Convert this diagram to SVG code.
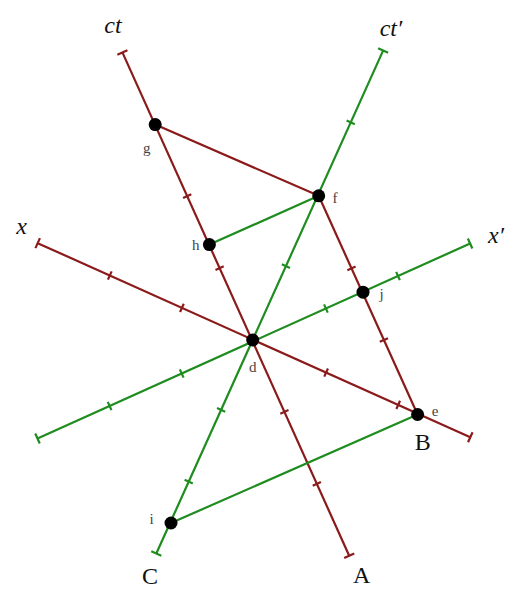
<svg xmlns="http://www.w3.org/2000/svg" width="518" height="599" viewBox="0 0 518 599">
<style>
  .r{stroke:#8b1a1a;stroke-width:2.2;fill:none;stroke-linecap:butt}
  .gr{stroke:#1e8c1e;stroke-width:2.2;fill:none;stroke-linecap:butt}
  .dot{fill:#000}
  .big{font-family:"Liberation Serif","DejaVu Serif",serif;font-size:24px;fill:#111;text-anchor:middle}
  .it{font-style:italic}
  .sm{font-family:"Liberation Serif","DejaVu Serif",serif;font-size:15px;fill:#444;text-anchor:middle}
</style>
<defs>
  <line id="tk" x1="-4.5" y1="0" x2="4.5" y2="0"/>
  <line id="cap" x1="-5.5" y1="0" x2="5.5" y2="0"/>
</defs>
<rect width="518" height="599" fill="#fff"/>

<g id="axes">
  <g id="axis-ct">
    <line class="r" x1="122.4" y1="52.4" x2="349.2" y2="555.7"/>
    <use href="#cap" class="r" transform="translate(122.4,52.4) rotate(-24.2)"/>
    <use href="#cap" class="r" transform="translate(349.2,555.7) rotate(-24.2)"/>
    <use href="#tk" class="r" transform="translate(187.2,196.2) rotate(-24.2)"/>
    <use href="#tk" class="r" transform="translate(219.6,268.1) rotate(-24.2)"/>
    <use href="#tk" class="r" transform="translate(284.4,411.9) rotate(-24.2)"/>
    <use href="#tk" class="r" transform="translate(316.8,483.8) rotate(-24.2)"/>
  </g>
  <g id="axis-x">
    <line class="r" x1="37.7" y1="243.15" x2="470.3" y2="437.25"/>
    <use href="#cap" class="r" transform="translate(37.7,243.15) rotate(114.2)"/>
    <use href="#cap" class="r" transform="translate(470.3,437.25) rotate(114.2)"/>
    <use href="#tk" class="r" transform="translate(109.8,275.5) rotate(114.2)"/>
    <use href="#tk" class="r" transform="translate(181.9,307.85) rotate(114.2)"/>
    <use href="#tk" class="r" transform="translate(326.1,372.55) rotate(114.2)"/>
    <use href="#tk" class="r" transform="translate(398.2,404.9) rotate(114.2)"/>
  </g>
  <g id="axis-ct-prime">
    <line class="gr" x1="383.1" y1="50.6" x2="156.3" y2="553.55"/>
    <use href="#cap" class="gr" transform="translate(383.1,50.6) rotate(24.2)"/>
    <use href="#cap" class="gr" transform="translate(156.3,553.55) rotate(24.2)"/>
    <use href="#tk" class="gr" transform="translate(350.7,122.45) rotate(24.2)"/>
    <use href="#tk" class="gr" transform="translate(285.9,266.15) rotate(24.2)"/>
    <use href="#tk" class="gr" transform="translate(221.1,409.85) rotate(24.2)"/>
    <use href="#tk" class="gr" transform="translate(188.7,481.7) rotate(24.2)"/>
  </g>
  <g id="axis-x-prime">
    <line class="gr" x1="37.5" y1="438.5" x2="470.1" y2="243.5"/>
    <use href="#cap" class="gr" transform="translate(37.5,438.5) rotate(65.8)"/>
    <use href="#cap" class="gr" transform="translate(470.1,243.5) rotate(65.8)"/>
    <use href="#tk" class="gr" transform="translate(109.6,406) rotate(65.8)"/>
    <use href="#tk" class="gr" transform="translate(181.7,373.5) rotate(65.8)"/>
    <use href="#tk" class="gr" transform="translate(325.9,308.5) rotate(65.8)"/>
    <use href="#tk" class="gr" transform="translate(398,276) rotate(65.8)"/>
  </g>
</g>

<g id="connectors">
  <line id="g-f" class="r" x1="155.2" y1="124.6" x2="318.7" y2="195.8"/>
  <line id="f-e" class="r" x1="318.7" y1="195.8" x2="417.6" y2="414.5"/>
  <use href="#tk" class="r" transform="translate(351.5,268.3) rotate(-24.2)"/>
  <use href="#tk" class="r" transform="translate(383.9,340) rotate(-24.2)"/>
  <line id="h-f" class="gr" x1="209.4" y1="244.6" x2="318.7" y2="195.8"/>
  <line id="i-e" class="gr" x1="171" y1="523" x2="417.6" y2="414.5"/>
</g>

<g id="axis-labels">
  <text class="big it" x="113" y="33">ct</text>
  <text class="big it" x="391" y="36">ct′</text>
  <text class="big it" x="21.5" y="234">x</text>
  <text class="big it" x="496" y="243">x′</text>
  <text class="big" x="422.7" y="450">B</text>
  <text class="big" x="150" y="584">C</text>
  <text class="big" x="361.7" y="583">A</text>
</g>

<g id="node-d"><circle class="dot" cx="252.7" cy="340" r="6.5"/><text class="sm" x="252.7" y="372">d</text></g>
<g id="node-g"><circle class="dot" cx="155.2" cy="124.6" r="6.5"/><text class="sm" x="146.7" y="153">g</text></g>
<g id="node-f"><circle class="dot" cx="318.7" cy="195.8" r="6.5"/><text class="sm" x="335" y="203">f</text></g>
<g id="node-h"><circle class="dot" cx="209.4" cy="244.6" r="6.5"/><text class="sm" x="195.7" y="250">h</text></g>
<g id="node-j"><circle class="dot" cx="363" cy="292.2" r="6.5"/><text class="sm" x="381.7" y="299">j</text></g>
<g id="node-e"><circle class="dot" cx="417.6" cy="414.5" r="6.5"/><text class="sm" x="435" y="416">e</text></g>
<g id="node-i"><circle class="dot" cx="171" cy="523" r="6.5"/><text class="sm" x="151.7" y="524">i</text></g>
</svg>
